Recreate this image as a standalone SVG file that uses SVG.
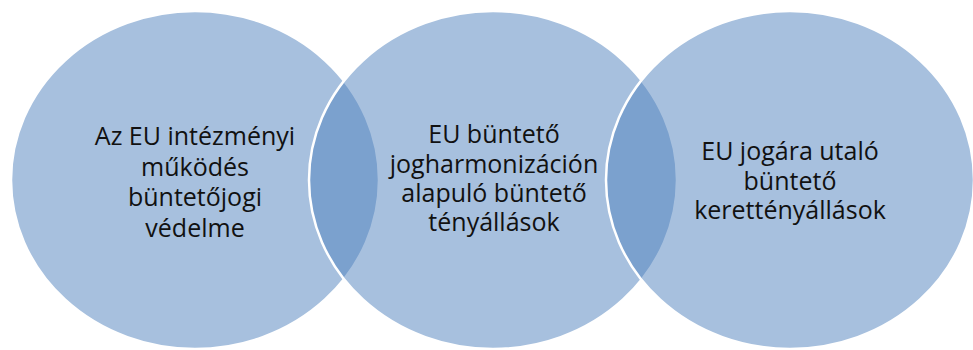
<svg xmlns="http://www.w3.org/2000/svg" width="973" height="350" viewBox="0 0 973 350">
<style>
.c{fill:#4f81bd;fill-opacity:0.5;stroke:#ffffff;stroke-width:2.5}
.t{font-family:"Open Sans","Noto Sans","Liberation Sans",sans-serif;font-size:25px;fill:#111111;text-anchor:middle}
</style>
<rect width="973" height="350" fill="#ffffff"/>
<g id="connectors"></g>
<g id="node1">
<ellipse class="c" cx="195" cy="180" rx="184" ry="169"/>
<text class="t" x="195" y="145">Az EU intézményi</text>
<text class="t" x="195" y="175.5">működés</text>
<text class="t" x="195" y="206">büntetőjogi</text>
<text class="t" x="195" y="236.5">védelme</text>
</g>
<g id="node2">
<ellipse class="c" cx="493" cy="180" rx="184" ry="169"/>
<text class="t" x="494" y="143">EU büntető</text>
<text class="t" x="494" y="172.5">jogharmonizáción</text>
<text class="t" x="494" y="202">alapuló büntető</text>
<text class="t" x="494" y="231">tényállások</text>
</g>
<g id="node3">
<ellipse class="c" cx="790" cy="180" rx="184" ry="169"/>
<text class="t" x="790" y="160">EU jogára utaló</text>
<text class="t" x="790" y="190">büntető</text>
<text class="t" x="790" y="219">kerettényállások</text>
</g>
</svg>
